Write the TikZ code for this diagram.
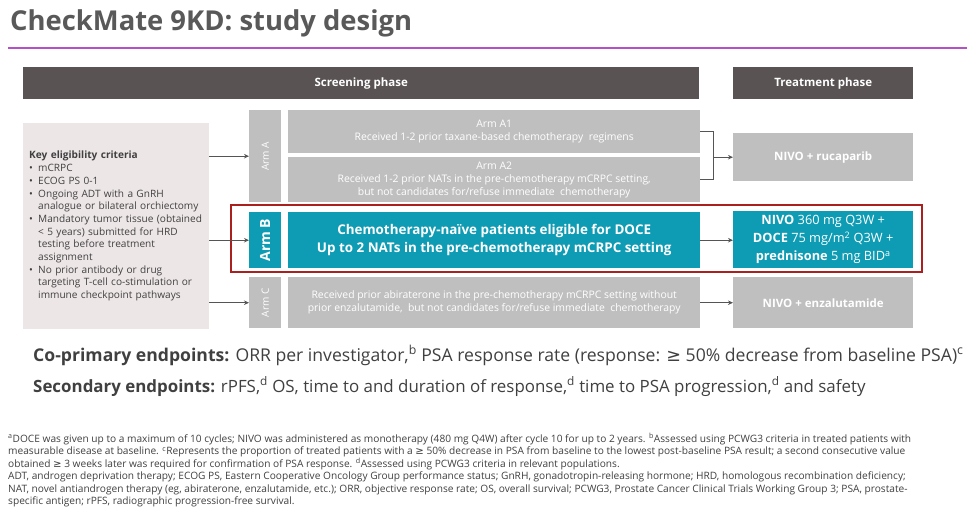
\documentclass[tikz,border=0pt]{standalone}
\usepackage{fontspec}
\setmainfont{Open Sans}
\newfontfamily\symfont{DejaVu Sans}
\usepackage{tikz}
\usetikzlibrary{arrows.meta}
\definecolor{titlegrey}{RGB}{89, 89, 89}
\definecolor{rulepurple}{RGB}{180, 80, 200}
\definecolor{bardark}{RGB}{89, 83, 83}
\definecolor{armgrey}{RGB}{191, 191, 191}
\definecolor{critpink}{RGB}{237, 230, 231}
\definecolor{armteal}{RGB}{14, 155, 180}
\definecolor{framered}{RGB}{170, 32, 30}
\definecolor{inkgrey}{RGB}{64, 64, 64}
\definecolor{arrowgrey}{RGB}{85, 85, 85}
\newcommand{\bul}{\makebox[9pt][l]{\textbullet}}
\newcommand{\ind}{\hspace*{9pt}}
\newcommand{\geqsym}{{\symfont ≥}}

\begin{document}
\begin{tikzpicture}[x=1pt, y=-1pt, >=Stealth,
  phase/.style={fill=bardark, text=white, anchor=north west, inner sep=0pt,
    font=\bfseries\fontsize{11.5}{13}\selectfont},
  armbox/.style={fill=armgrey, text=white, anchor=north west, inner sep=0pt,
    align=center, font=\fontsize{10.4}{13}\selectfont},
  tealbox/.style={armbox, fill=armteal},
  armtag/.style={text=white, rotate=90, inner sep=0pt, font=\fontsize{10}{12}\selectfont},
  conn/.style={draw=arrowgrey, line width=0.9pt, -{Stealth[length=5pt, width=4.5pt]}}]
  \useasboundingbox (0,0) rectangle (974,512);
  \fill[white] (0,0) rectangle (974,512);

  % Title
  \node[anchor=base west, inner sep=0pt, text=titlegrey, font=\bfseries\fontsize{27.4}{30}\selectfont]
    (title) at (10,30) {CheckMate 9KD: study design};
  \draw[rulepurple, line width=2pt] (8,48) -- (967,48);

  % Phase bars
  \node[phase, minimum width=676pt, minimum height=32pt] (screen) at (23,67) {Screening phase};
  \node[phase, minimum width=180pt, minimum height=32pt] (treat) at (733,67) {Treatment phase};

  % Eligibility box
  \node[fill=critpink, text=inkgrey, anchor=north west, minimum width=186pt, minimum height=206pt,
    text width=174pt, inner xsep=6pt, inner ysep=0pt, align=left, font=\fontsize{10.1}{12.7}\selectfont]
    (crit) at (23,123) {\textbf{Key eligibility criteria}\\
    \bul mCRPC\\
    \bul ECOG PS 0-1\\
    \bul Ongoing ADT with a GnRH\\
    \ind analogue or bilateral orchiectomy\\
    \bul Mandatory tumor tissue (obtained\\
    \ind < 5 years) submitted for HRD\\
    \ind testing before treatment\\
    \ind assignment\\
    \bul No prior antibody or drug\\
    \ind targeting T-cell co-stimulation or\\
    \ind immune checkpoint pathways};

  % Arm A
  \node[armbox, minimum width=32pt, minimum height=92pt] (armA) at (249,110) {};
  \node[armtag] at (armA) {Arm A};
  \node[armbox, minimum width=412pt, minimum height=43pt] (armA1) at (288,110)
    {Arm A1\\Received 1-2 prior taxane-based chemotherapy\ \ regimens};
  \node[armbox, minimum width=412pt, minimum height=45pt] (armA2) at (288,157)
    {Arm A2\\Received 1-2 prior NATs in the pre-chemotherapy mCRPC setting,\\
    but not candidates for/refuse immediate\ \ chemotherapy};

  % Arm B
  \node[tealbox, minimum width=32pt, minimum height=56pt] (armB) at (249,212) {};
  \node[armtag, font=\bfseries\fontsize{14}{16}\selectfont] at (armB) {Arm B};
  \node[tealbox, minimum width=412pt, minimum height=56pt, font=\bfseries\fontsize{13.4}{18}\selectfont]
    (armBmain) at (288,212) {Chemotherapy-naïve patients eligible for DOCE\\
    Up to 2 NATs in the pre-chemotherapy mCRPC setting};

  % Arm C
  \node[armbox, minimum width=32pt, minimum height=51pt] (armC) at (249,277) {};
  \node[armtag] at (armC) {Arm C};
  \node[armbox, minimum width=412pt, minimum height=51pt] (armCmain) at (288,277)
    {Received prior abiraterone in the pre-chemotherapy mCRPC setting without\\
    prior enzalutamide,\ \ but not candidates for/refuse immediate\ \ chemotherapy};

  % Treatments
  \node[armbox, minimum width=180pt, minimum height=48pt, font=\bfseries\fontsize{11.5}{13}\selectfont]
    (rucaparib) at (733,133) {NIVO + rucaparib};
  \node[tealbox, minimum width=180pt, minimum height=57pt, font=\fontsize{12.8}{18}\selectfont]
    (docetaxel) at (733,211) {\textbf{NIVO} 360 mg Q3W +\\
    \textbf{DOCE} 75 mg/m\textsuperscript{2} Q3W +\\
    \textbf{prednisone} 5 mg BID\textsuperscript{a}};
  \node[armbox, minimum width=180pt, minimum height=51pt, font=\bfseries\fontsize{11.5}{13}\selectfont]
    (enzalutamide) at (733,277) {NIVO + enzalutamide};

  % Highlight frame
  \draw[framered, line width=2.5pt] (231,205) rectangle (922,272);

  % Connectors
  \draw[conn] (crit.east |- armA.west) -- (armA.west);
  \draw[conn] (crit.east |- armB.west) -- (armB.west);
  \draw[conn] (crit.east |- armC.west) -- (armC.west);
  \draw[draw=arrowgrey, line width=0.9pt] (armA1.east) -- ++(13,0) coordinate (brtop) |- (armA2.east);
  \draw[conn] (brtop |- rucaparib.west) -- (rucaparib.west);
  \draw[conn] (armBmain.east) -- (armBmain.east -| docetaxel.west);
  \draw[conn] (armCmain.east) -- (armCmain.east -| enzalutamide.west);

  % Endpoints
  \node[anchor=base west, inner sep=0pt, text=inkgrey, font=\fontsize{17.6}{20}\selectfont] (coprim) at (33,361)
    {\textbf{Co-primary endpoints:} ORR per investigator,\textsuperscript{b} PSA response rate (response: \geqsym{} 50\% decrease from baseline PSA)\textsuperscript{c}};
  \node[anchor=base west, inner sep=0pt, text=inkgrey, font=\fontsize{16.9}{20}\selectfont] (second) at (33,392)
    {\textbf{Secondary endpoints:} rPFS,\textsuperscript{d} OS, time to and duration of response,\textsuperscript{d} time to PSA progression,\textsuperscript{d} and safety};

  % Footnotes
  \node[anchor=north west, inner sep=0pt, align=left, text=inkgrey, font=\fontsize{10.15}{12.5}\selectfont]
    (notes) at (8,433) {\textsuperscript{a}DOCE was given up to a maximum of 10 cycles; NIVO was administered as monotherapy (480 mg Q4W) after cycle 10 for up to 2 years. \textsuperscript{b}Assessed using PCWG3 criteria in treated patients with\\
    measurable disease at baseline. \textsuperscript{c}Represents the proportion of treated patients with a \geqsym{} 50\% decrease in PSA from baseline to the lowest post-baseline PSA result; a second consecutive value\\
    obtained \geqsym{} 3 weeks later was required for confirmation of PSA response. \textsuperscript{d}Assessed using PCWG3 criteria in relevant populations.\\
    ADT, androgen deprivation therapy; ECOG PS, Eastern Cooperative Oncology Group performance status; GnRH, gonadotropin-releasing hormone; HRD, homologous recombination deficiency;\\
    NAT, novel antiandrogen therapy (eg, abiraterone, enzalutamide, etc.); ORR, objective response rate; OS, overall survival; PCWG3, Prostate Cancer Clinical Trials Working Group 3; PSA, prostate-\\
    specific antigen; rPFS, radiographic progression-free survival.};
\end{tikzpicture}
\end{document}
